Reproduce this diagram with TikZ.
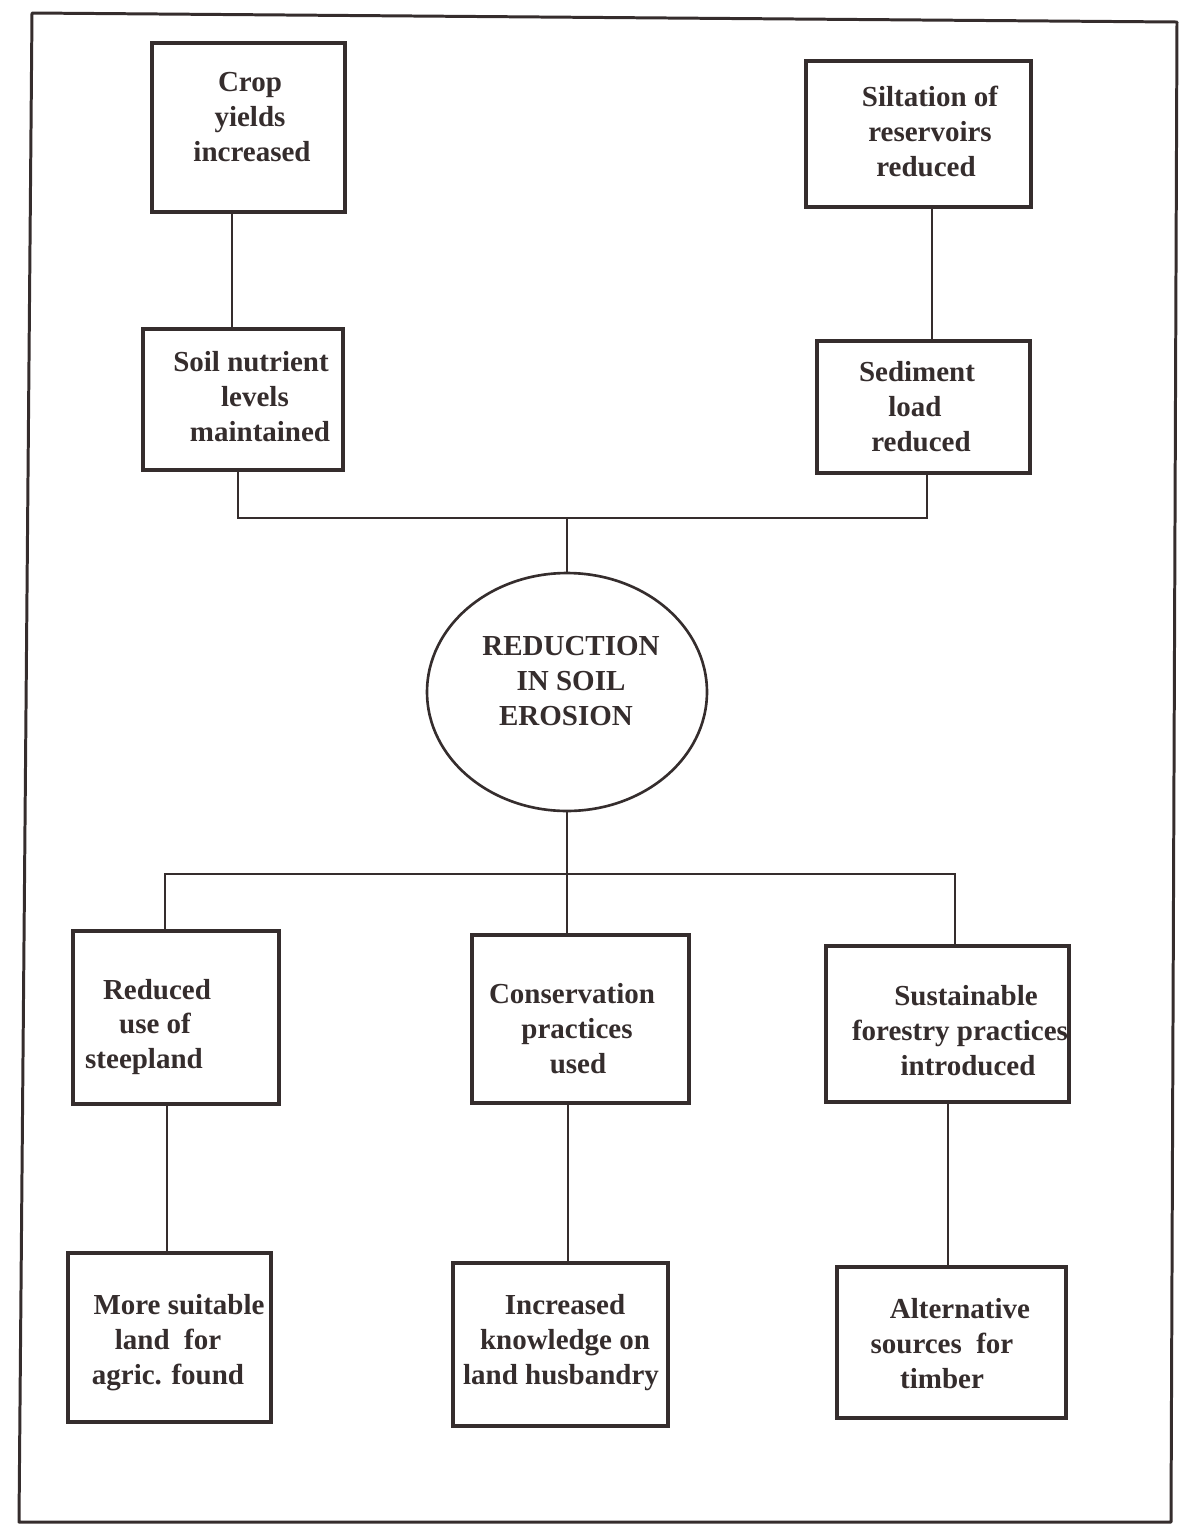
\documentclass[tikz,border=0pt]{standalone}
\usepackage{fontspec}
\setmainfont{Liberation Serif}
\usetikzlibrary{calc,shapes.geometric}
\definecolor{ink}{HTML}{352D2D}
% shift one centred line: \rs{pad}{text} moves it right, \ls{pad}{text} moves it left
\newcommand\rs[2]{\hspace*{#1}#2}
\newcommand\ls[2]{#2\hspace*{#1}}
\begin{document}
\begin{tikzpicture}[x=0.02cm,y=-0.02cm,
  box/.style={draw=ink,line width=1.9pt,rectangle,inner sep=0pt},
  oval/.style={draw=ink,line width=1.5pt,ellipse,inner sep=0pt},
  lbl/.style={text=ink,font=\fontsize{16.5}{19.9}\selectfont\bfseries,align=center,inner sep=0pt},
  link/.style={draw=ink,line width=1.4pt},
  frame/.style={draw=ink,line width=1.7pt,line join=round}]
\useasboundingbox (0,0) rectangle (1183,1526);

% page frame
\draw[frame] (32,13) -- (1177,22) -- (1171,1522) -- (19,1522) -- cycle;

% boxes
\node[box,minimum width=3.86cm,minimum height=3.38cm] (crop) at (248.5,127.5) {};
\node[box,minimum width=4.50cm,minimum height=2.92cm] (silt) at (918.5,134) {};
\node[box,minimum width=4.00cm,minimum height=2.82cm] (soil) at (243,399.5) {};
\node[box,minimum width=4.26cm,minimum height=2.64cm] (sed) at (923.5,407) {};
\node[oval,minimum width=5.60cm,minimum height=4.76cm] (ell) at (567,692) {};
\node[box,minimum width=4.12cm,minimum height=3.46cm] (red) at (176,1017.5) {};
\node[box,minimum width=4.34cm,minimum height=3.36cm] (cons) at (580.5,1019) {};
\node[box,minimum width=4.86cm,minimum height=3.12cm] (sust) at (947.5,1024) {};
\node[box,minimum width=4.06cm,minimum height=3.38cm] (more) at (169.5,1337.5) {};
\node[box,minimum width=4.30cm,minimum height=3.26cm] (incr) at (560.5,1344.5) {};
\node[box,minimum width=4.58cm,minimum height=3.02cm] (alt) at (951.5,1342.5) {};

% labels
\node[lbl] (cropt) at (250,117) {Crop\\\ls{0.2cm}{yields}\\\rs{0.08cm}{increased}};
\node[lbl] (siltt) at (930,131) {Siltation of\\reservoirs\\\ls{0.16cm}{reduced}};
\node[lbl] (soilt) at (255,397) {\ls{0.16cm}{Soil nutrient}\\levels\\\rs{0.2cm}{maintained}};
\node[lbl] (sedt) at (915,407) {\rs{0.08cm}{Sediment}\\\ls{0.28cm}{load}\\\rs{0.24cm}{reduced}};
\node[lbl] (ellt) at (571,681) {REDUCTION\\IN SOIL\\\ls{0.2cm}{EROSION}};
\node[lbl] (redt) at (152,1027) {\rs{0.2cm}{Reduced}\\\rs{0.12cm}{use of}\\\ls{0.32cm}{steepland}};
\node[lbl] (const) at (575,1029) {\ls{0.12cm}{Conservation}\\\rs{0.08cm}{practices}\\\rs{0.12cm}{used}};
\node[lbl] (sustt) at (960,1031) {\rs{0.24cm}{Sustainable}\\\ls{0.28cm}{forestry practices}\\\rs{0.32cm}{introduced}};
\node[lbl] (moret) at (168,1343) {\rs{0.44cm}{More suitable}\\\ls{0.08cm}{land\ \ for}\\agric. found};
\node[lbl] (incrt) at (565,1343) {Increased\\knowledge on\\\ls{0.16cm}{land husbandry}};
\node[lbl] (altt) at (942,1344) {\rs{0.72cm}{Alternative}\\sources\ \ for\\timber};

% connector positions
\coordinate (xA) at (232,0);
\coordinate (xB) at (932,0);
\coordinate (barL) at (238,518);
\coordinate (barR) at (927,518);
\coordinate (lowL) at (165,874);
\coordinate (lowR) at (955,874);
\coordinate (xC) at (167,0);
\coordinate (xD) at (568,0);
\coordinate (xE) at (948,0);

% upper connectors
\draw[link] (crop.south -| xA) -- (soil.north -| xA);
\draw[link] (silt.south -| xB) -- (sed.north -| xB);
\draw[link] (soil.south -| barL) -- (barL) -- (barR) -- (sed.south -| barR);
\draw[link] (ell.north) -- (ell.north |- barL);

% lower connectors
\draw[link] (ell.south) -- (ell.south |- cons.north);
\draw[link] (red.north -| lowL) -- (lowL) -- (lowR) -- (sust.north -| lowR);
\draw[link] (red.south -| xC) -- (more.north -| xC);
\draw[link] (cons.south -| xD) -- (incr.north -| xD);
\draw[link] (sust.south -| xE) -- (alt.north -| xE);
\end{tikzpicture}
\end{document}
